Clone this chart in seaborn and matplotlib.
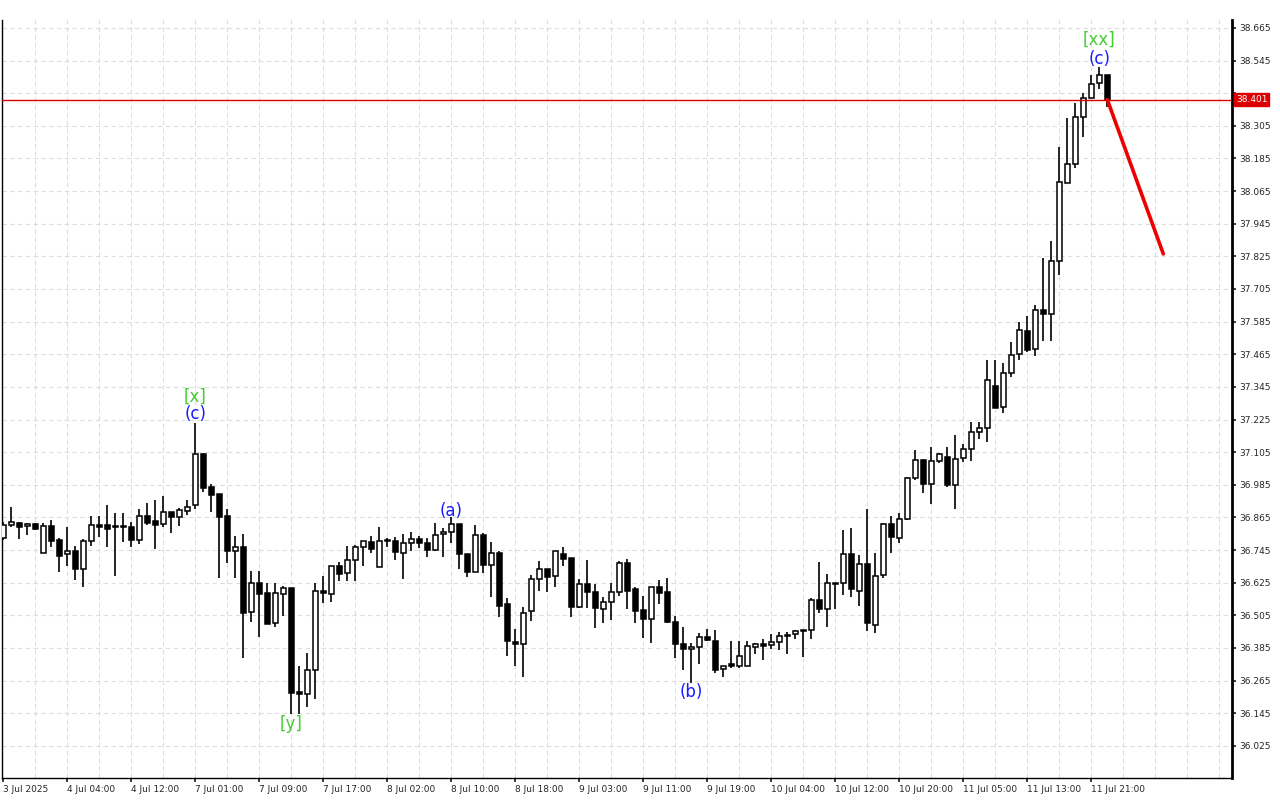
import matplotlib
matplotlib.use("Agg")
import matplotlib.pyplot as plt
import seaborn as sns
import numpy as np
import pandas as pd

opens = [36.790,36.838,36.845,36.834,36.842,36.735,36.834,36.783,36.731,36.742,36.676,36.779,36.838,36.838,36.834,36.834,36.831,36.783,36.871,36.853,
         36.842,36.886,36.867,36.890,36.912,37.099,36.978,36.952,36.871,36.742,36.757,36.518,36.625,36.588,36.478,36.584,36.606,36.224,36.216,36.304,
         36.595,36.584,36.687,36.661,36.709,36.757,36.775,36.684,36.779,36.779,36.735,36.772,36.786,36.772,36.746,36.805,36.812,36.842,36.731,36.665,
         36.801,36.691,36.735,36.547,36.408,36.400,36.522,36.639,36.676,36.650,36.731,36.717,36.536,36.621,36.591,36.529,36.555,36.591,36.698,36.603,
         36.526,36.492,36.610,36.591,36.481,36.400,36.382,36.389,36.426,36.411,36.308,36.327,36.319,36.319,36.389,36.400,36.397,36.408,36.433,36.437,
         36.452,36.452,36.562,36.529,36.625,36.625,36.731,36.595,36.695,36.470,36.654,36.842,36.790,36.860,37.011,37.077,36.989,37.073,37.088,36.985,
         37.085,37.118,37.180,37.195,37.349,37.271,37.396,37.466,37.551,37.485,37.628,37.613,37.808,38.095,38.165,38.338,38.408,38.463,38.492]
highs = [36.849,36.904,36.849,36.845,36.845,36.845,36.856,36.790,36.831,36.761,36.786,36.871,36.871,36.912,36.882,36.882,36.849,36.897,36.919,36.930,
         36.945,36.886,36.901,36.930,37.213,37.103,36.989,36.952,36.897,36.798,36.805,36.669,36.669,36.625,36.625,36.614,36.606,36.319,36.367,36.625,
         36.650,36.687,36.702,36.761,36.764,36.779,36.798,36.831,36.790,36.794,36.805,36.812,36.798,36.790,36.845,36.827,36.867,36.842,36.731,36.838,
         36.809,36.775,36.742,36.569,36.455,36.536,36.654,36.706,36.676,36.742,36.757,36.717,36.639,36.709,36.621,36.573,36.625,36.706,36.713,36.610,
         36.577,36.610,36.636,36.643,36.503,36.463,36.404,36.441,36.455,36.452,36.319,36.411,36.411,36.411,36.404,36.419,36.437,36.444,36.444,36.452,
         36.452,36.569,36.702,36.658,36.625,36.820,36.827,36.728,36.897,36.735,36.845,36.871,36.882,37.015,37.114,37.081,37.125,37.103,37.125,37.169,
         37.136,37.217,37.217,37.444,37.444,37.433,37.510,37.584,37.606,37.647,37.820,37.882,38.228,38.334,38.389,38.426,38.492,38.522,38.492]
lows = [36.783,36.831,36.786,36.801,36.820,36.735,36.757,36.665,36.687,36.636,36.610,36.761,36.794,36.757,36.650,36.775,36.757,36.768,36.838,36.750,
        36.831,36.809,36.834,36.875,36.897,36.959,36.886,36.643,36.698,36.643,36.349,36.481,36.426,36.474,36.463,36.503,36.143,36.143,36.169,36.198,
        36.551,36.555,36.632,36.632,36.632,36.687,36.735,36.684,36.757,36.709,36.640,36.742,36.753,36.720,36.742,36.720,36.772,36.676,36.647,36.665,
        36.661,36.573,36.500,36.356,36.319,36.279,36.485,36.595,36.591,36.610,36.687,36.500,36.533,36.533,36.459,36.478,36.488,36.577,36.529,36.478,
        36.422,36.404,36.547,36.478,36.349,36.304,36.257,36.327,36.411,36.294,36.279,36.312,36.312,36.319,36.363,36.341,36.382,36.378,36.363,36.419,
        36.352,36.419,36.514,36.463,36.529,36.581,36.573,36.540,36.448,36.441,36.643,36.735,36.772,36.856,37.004,36.956,36.915,37.066,36.978,36.897,
        37.070,37.073,37.154,37.143,37.268,37.249,37.382,37.444,37.474,37.459,37.514,37.514,37.757,38.095,38.150,38.264,38.408,38.441,38.375]
closes = [36.838,36.849,36.831,36.842,36.823,36.834,36.779,36.724,36.742,36.676,36.779,36.838,36.831,36.823,36.831,36.831,36.783,36.871,36.845,36.838,
          36.886,36.867,36.893,36.904,37.099,36.974,36.948,36.867,36.742,36.757,36.514,36.625,36.584,36.474,36.588,36.606,36.220,36.216,36.304,36.595,
          36.588,36.687,36.658,36.709,36.757,36.779,36.750,36.779,36.780,36.739,36.772,36.786,36.772,36.746,36.801,36.812,36.842,36.731,36.665,36.801,
          36.691,36.735,36.540,36.411,36.400,36.514,36.639,36.676,36.647,36.742,36.713,36.536,36.621,36.591,36.533,36.555,36.591,36.698,36.595,36.522,
          36.492,36.610,36.588,36.481,36.400,36.382,36.389,36.426,36.415,36.304,36.319,36.319,36.356,36.393,36.400,36.393,36.408,36.430,36.430,36.448,
          36.448,36.562,36.529,36.625,36.621,36.731,36.603,36.695,36.478,36.650,36.842,36.794,36.860,37.011,37.077,36.989,37.073,37.099,36.985,37.081,
          37.118,37.180,37.195,37.371,37.268,37.396,37.463,37.555,37.481,37.628,37.613,37.808,38.099,38.165,38.338,38.408,38.459,38.492,38.401]

time_labels = ['3 Jul 2025','4 Jul 04:00','4 Jul 12:00','7 Jul 01:00','7 Jul 09:00','7 Jul 17:00',
               '8 Jul 02:00','8 Jul 10:00','8 Jul 18:00','9 Jul 03:00','9 Jul 11:00','9 Jul 19:00',
               '10 Jul 04:00','10 Jul 12:00','10 Jul 20:00','11 Jul 05:00','11 Jul 13:00','11 Jul 21:00']
price_ticks = [36.025,36.145,36.265,36.385,36.505,36.625,36.745,36.865,36.985,37.105,37.225,37.345,
               37.465,37.585,37.705,37.825,37.945,38.065,38.185,38.305,38.425,38.545,38.665]
current_price = 38.401
forecast_x = [138, 145]
forecast_y = [38.401, 37.834]
wave_labels = [(24, 37.31, '[x]', 'green'), (24, 37.247, '(c)', 'blue'),
               (56, 36.89, '(a)', 'blue'), (36, 36.105, '[y]', 'green'),
               (86, 36.225, '(b)', 'blue'), (137, 38.62, '[xx]', 'green'), (137, 38.55, '(c)', 'blue')]

sns.set_theme(style="white")
plt.rcParams['font.family'] = ['DejaVu Sans']

df = pd.DataFrame({'o': opens, 'h': highs, 'l': lows, 'c': closes})
df['i'] = np.arange(len(df))
df['bottom'] = df[['o', 'c']].min(axis=1)
df['height'] = (df['c'] - df['o']).abs().clip(lower=0.004)
df['up'] = df['c'] >= df['o']

fig = plt.figure(figsize=(12.8, 8.0), dpi=100)
ax = fig.add_axes([0.0016, 0.0275, 0.9610, 0.9475])
ax.set_facecolor('white')

ax.vlines(df['i'], df['l'], df['h'], color='black', linewidth=1.2, zorder=2)
ax.bar(df['i'], df['height'], bottom=df['bottom'], width=0.6,
       color=np.where(df['up'], 'white', 'black'), edgecolor='black', linewidth=1.1, zorder=3)

ax.set_xlim(-0.15, 153.6)
ax.set_ylim(35.907, 38.694)

for gx in np.arange(4, 154, 4):
    ax.axvline(gx, color='#dddddd', linestyle=(0, (4, 3)), linewidth=0.8, zorder=0)
for gy in price_ticks:
    ax.axhline(gy, color='#dddddd', linestyle=(0, (4, 3)), linewidth=0.8, zorder=0)

ax.axhline(current_price, color='#dd0000', linewidth=1.0, zorder=4)
ax.plot(forecast_x, forecast_y, color='#ee0000', linewidth=2.6, zorder=5)

colors = {'green': '#44cc33', 'blue': '#1a1aff'}
for xi, yv, txt, col in wave_labels:
    ax.text(xi, yv, txt, color=colors[col], fontsize=12, ha='center', va='center', zorder=6)

ax.set_xticks(np.arange(0, 8 * len(time_labels), 8))
ax.set_xticklabels(time_labels, fontsize=6.5, ha='left')
ax.tick_params(axis='x', length=3, pad=2, direction='out', bottom=True)
ax.yaxis.tick_right()
ax.set_yticks(price_ticks)
ax.set_yticklabels([f'{v:.3f}' if abs(v - current_price) > 0.03 else '' for v in price_ticks], fontsize=6.5)
ax.tick_params(axis='y', length=3, pad=2, right=True)

ax.spines['top'].set_visible(False)
for s in ['left', 'bottom', 'right']:
    ax.spines[s].set_color('black')
    ax.spines[s].set_linewidth(1)
ax.spines['right'].set_linewidth(2)

ax.text(1.0 + 0.003, current_price, f'{current_price:.3f}', transform=ax.get_yaxis_transform(),
        fontsize=6.5, color='white', va='center', ha='left', zorder=10,
        bbox=dict(boxstyle='square,pad=0.2', facecolor='#dd0000', edgecolor='#dd0000'), clip_on=False)

fig.savefig('out.png', dpi=100, facecolor='white')
